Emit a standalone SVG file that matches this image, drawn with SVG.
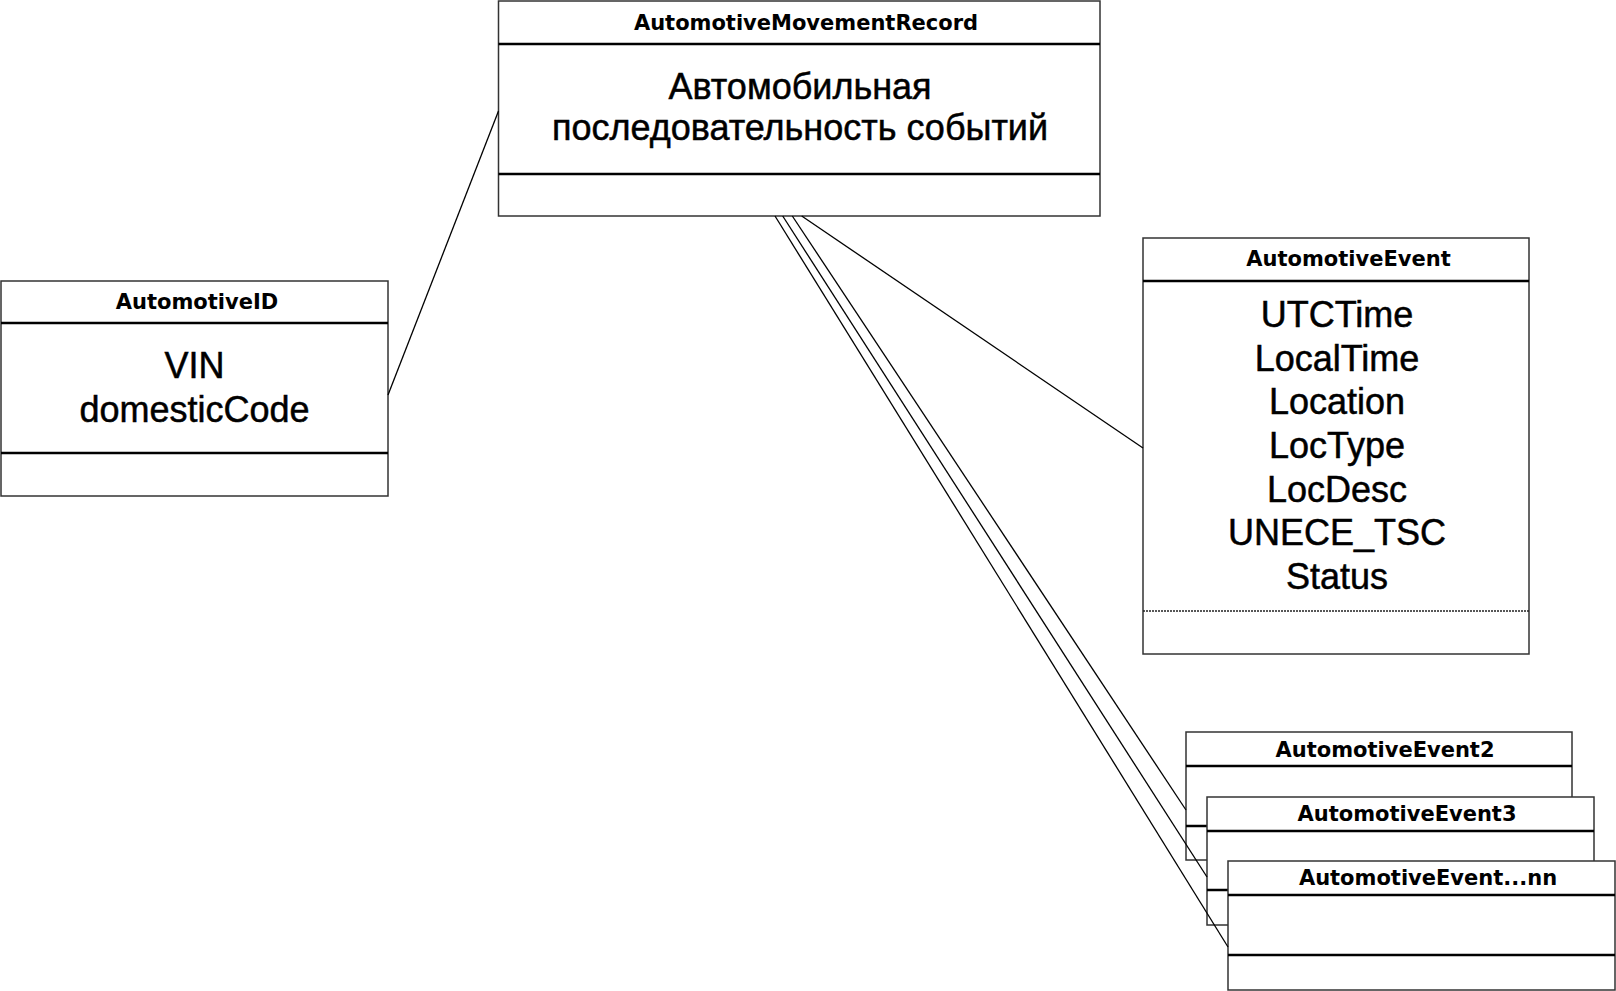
<svg xmlns="http://www.w3.org/2000/svg" width="1616" height="991" viewBox="0 0 1616 991">
<style>
.box{fill:#fff;stroke:#333;stroke-width:1.5}
.sep{stroke:#000;stroke-width:2.4}
.sepd{stroke:#222;stroke-width:1.5;stroke-dasharray:2 1}
.title{font-family:"DejaVu Sans",sans-serif;font-weight:bold;font-size:21px;fill:#000;text-anchor:middle}
.body{font-family:"Liberation Sans",Arial,sans-serif;font-size:36px;fill:#000;stroke:#000;stroke-width:0.5;text-anchor:middle}
.conn{stroke:#000;stroke-width:1.3;fill:none}
</style>
<rect width="1616" height="991" fill="#fff"/>
<g id="node-movement-record">
<rect class="box" x="498.5" y="1" width="601.5" height="215"/>
<line class="sep" x1="498.5" y1="44" x2="1100" y2="44"/>
<line class="sep" x1="498.5" y1="174" x2="1100" y2="174"/>
<text class="title" x="806" y="30">AutomotiveMovementRecord</text>
<text class="body" x="800" y="98.5">Автомобильная</text>
<text class="body" x="800" y="140">последовательность событий</text>
</g>
<g id="node-automotive-id">
<rect class="box" x="1" y="281" width="387" height="215"/>
<line class="sep" x1="1" y1="323" x2="388" y2="323"/>
<line class="sep" x1="1" y1="453" x2="388" y2="453"/>
<text class="title" x="197" y="309">AutomotiveID</text>
<text class="body" x="194.5" y="378">VIN</text>
<text class="body" x="194.5" y="421.5">domesticCode</text>
</g>
<g id="node-automotive-event">
<rect class="box" x="1143" y="238" width="386" height="416"/>
<line class="sep" x1="1143" y1="281" x2="1529" y2="281"/>
<line class="sepd" x1="1143" y1="611" x2="1529" y2="611"/>
<text class="title" x="1348.5" y="266">AutomotiveEvent</text>
<text class="body" x="1337" y="327">UTCTime</text>
<text class="body" x="1337" y="370.7">LocalTime</text>
<text class="body" x="1337" y="414.3">Location</text>
<text class="body" x="1337" y="458">LocType</text>
<text class="body" x="1337" y="501.7">LocDesc</text>
<text class="body" x="1337" y="545.3">UNECE_TSC</text>
<text class="body" x="1337" y="589">Status</text>
</g>
<g id="node-automotive-event2">
<rect class="box" x="1186" y="732" width="386" height="128"/>
<line class="sep" x1="1186" y1="766" x2="1572" y2="766"/>
<line class="sep" x1="1186" y1="826" x2="1572" y2="826"/>
<text class="title" x="1385" y="757">AutomotiveEvent2</text>
</g>
<g id="node-automotive-event3">
<rect class="box" x="1207" y="797" width="387" height="128"/>
<line class="sep" x1="1207" y1="831" x2="1594" y2="831"/>
<line class="sep" x1="1207" y1="890" x2="1594" y2="890"/>
<text class="title" x="1407" y="821">AutomotiveEvent3</text>
</g>
<g id="node-automotive-event-nn">
<rect class="box" x="1228" y="861" width="387" height="129"/>
<line class="sep" x1="1228" y1="895" x2="1615" y2="895"/>
<line class="sep" x1="1228" y1="955" x2="1615" y2="955"/>
<text class="title" x="1428" y="885">AutomotiveEvent...nn</text>
</g>
<g id="connectors">
<line class="conn" x1="388" y1="395" x2="498.5" y2="111"/>
<line class="conn" x1="801.7" y1="216" x2="1143" y2="448"/>
<line class="conn" x1="792.3" y1="216" x2="1186" y2="810"/>
<line class="conn" x1="782.7" y1="216" x2="1207" y2="877"/>
<line class="conn" x1="775" y1="216" x2="1228" y2="947"/>
</g>
</svg>
